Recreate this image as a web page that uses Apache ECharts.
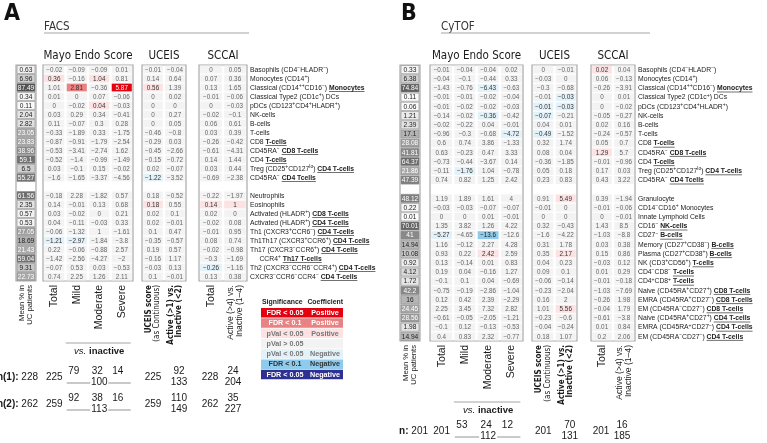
<!DOCTYPE html>
<html><head><meta charset="utf-8">
<script src="https://cdn.jsdelivr.net/npm/echarts@6/dist/echarts.min.js"></script>
<style>html,body{margin:0;padding:0;background:#fff}#c{width:767px;height:443px}</style>
</head><body><div id="c"></div>
<script>
// ================= DATA : Panel A (FACS) =================
const labelsA_plain = ['Basophils (CD4⁻HLADR⁻)','Monocytes (CD14⁺)','Classical (CD14⁺⁺CD16⁻) ','Classical Type2 (CD1c⁺) DCs','pDCs (CD123⁺CD4⁺HLADR⁺)','NK-cells','B-cells','T-cells','CD8 ','CD45RA⁻ ','CD4 ','Treg (CD25⁺CD127ˡᵒ) ','CD45RA⁻ ',null,'Neutrophils','Eosinophils','Activated (HLADR⁺) ','Activated (HLADR⁺) ','Th1 (CXCR3⁺CCR6⁻) ','Th1Th17 (CXCR3⁺CCR6⁺) ','Th17 (CXCR3⁻CCR6⁺) ','     CCR4⁺ ','Th2 (CXCR3⁻CCR6⁻CCR4⁺) ','CXCR3⁻CCR6⁻CCR4⁻ '];
const labelsA_bold  = ['','','Monocytes','','','','','','T-cells','CD8 T-cells','T-cells','CD4 T-cells','CD4 Tcells',null,'','','CD8 T-cells','CD4 T-cells','CD4 T-cells','CD4 T-cells','CD4 T-cells','Th17 T-cells','CD4 T-cells','CD4 T-cells'];
const meanA          = [0.63,6.96,87.49,0.34,0.11,2.04,2.82,23.05,23.83,38.96,59.1,6.5,55.27,null,61.56,2.35,0.57,0.53,27.05,18.69,21.43,59.04,9.31,22.73];
const mayoA_total    = [-0.02,0.36,1.01,0.01,0,0.03,0.11,-0.33,-0.87,-0.53,-0.52,0.03,-1.6,null,-0.18,0.14,0.03,0.04,-0.06,-1.21,0.22,-1.42,-0.07,0.74];
const mayoA_mild     = [-0.09,-0.16,2.81,0,-0.02,0.29,-0.07,-1.89,-0.91,-3.41,-1.4,-0.1,-1.65,null,2.28,-0.01,-0.02,-0.11,-1.32,-2.97,-0.06,-2.56,0.53,2.25];
const mayoA_moderate = [-0.09,1.04,-0.36,0.07,0.04,0.34,0.3,0.33,-1.79,-2.74,-0.99,0.15,-3.37,null,-1.82,0.13,0,-0.03,1,-1.84,-0.88,-4.27,0.03,1.26];
const mayoA_severe   = [0.01,0.81,5.87,-0.06,-0.03,-0.41,0.28,-1.75,-2.54,1.62,-1.49,-0.02,-4.56,null,0.57,0.68,0.21,0.33,-1.61,-3.8,2.57,-2,-0.53,2.11];
const uceisA_cont    = [-0.01,0.14,0.56,0,0,0,0,-0.46,-0.29,-0.45,-0.15,0.02,-1.22,null,0.18,0.18,0.02,0.02,0.1,-0.35,0.19,-0.16,-0.03,0.1];
const uceisA_active  = [-0.04,0.64,1.39,0.02,0,0.27,0.05,-0.8,0.03,-2.66,-0.72,-0.07,-3.52,null,-0.52,0.55,0.1,-0.01,0.47,-0.57,0.57,1.17,0.13,-0.01];
const sccaiA_total   = [0,0.07,0.13,-0.01,0,-0.02,0.06,0.03,-0.26,-0.61,0.14,0.03,-0.69,null,-0.22,0.14,0.02,-0.02,-0.01,0.08,-0.02,-0.3,-0.26,0.13];
const sccaiA_active  = [0.05,0.36,1.65,-0.06,-0.03,-0.1,0.61,0.39,-0.42,-4.31,1.44,0.44,-2.38,null,-1.97,1,0,0.08,0.95,0.74,-0.98,-1.69,-1.16,0.38];
// significance codes: R FDR<0.05 pos, r FDR<0.1 pos, p pVal<0.05 pos, . n.s., n pVal<0.05 neg, b FDR<0.1 neg, B FDR<0.05 neg
const sigA_mayo  = ['....','p.p.','.r.R','....','..p.','....','....','....','....','....','....','....','....','','....','....','....','....','....','nn..','....','....','....','....'];
const sigA_uceis = ['..','..','p.','..','..','..','..','..','..','..','..','..','n.','','..','p.','..','..','..','..','..','..','..','..'];
const sigA_sccai = ['..','..','..','..','..','..','..','..','..','..','..','..','..','','..','pp','..','..','..','..','..','..','n.','..'];
const nLabelA = ['n(1):','n(2):'];
const nMeanA = [228,262], nTotalA = [225,259], nMildA = [79,92], nModA = [32,38], nSevA = [14,16], nInactA = [100,113];
const nUceisContA = [225,259], nUceisActA = [92,110], nUceisInactA = [133,149];
const nSccaiTotA = [228,262], nSccaiActA = [24,35], nSccaiInactA = [204,227];

// ================= DATA : Panel B (CyTOF) =================
const labelsB_plain = ['Basophils (CD4⁻HLADR⁻)','Monocytes (CD14⁺)','Classical (CD14⁺⁺CD16⁻) ','Classical Type2 (CD1c⁺) DCs','pDCs (CD123⁺CD4⁺HLADR⁺)','NK-cells','B-cells','T-cells','CD8 ','CD45RA⁻ ','CD4 ','Treg (CD25⁺CD127ˡᵒ) ','CD45RA⁻ ',null,'Granulocyte','CD14⁻CD16⁺ Monocytes','Innate Lymphoid Cells','CD16⁻ ','CD27⁻ ','Memory (CD27⁺CD38⁻) ','Plasma (CD27⁺CD38⁺) ','NK (CD3⁺CD56⁺) ','CD4⁻CD8⁻ ','CD4⁺CD8⁺ ','Naive (CD45RA⁺CD27⁺) ','EMRA (CD45RA⁺CD27⁻) ','EM (CD45RA⁻CD27⁻) ','Naive (CD45RA⁺CD27⁺) ','EMRA (CD45RA⁺CD27⁻) ','EM (CD45RA⁻CD27⁻) '];
const labelsB_bold  = ['','','Monocytes','','','','','','T-cells','CD8 T-cells','T-cells','CD4 T-cells','CD4 Tcells',null,'','','','NK-cells','B-cells','B-cells','B-cells','T-cells','T-cells','T-cells','CD8 T-cells','CD8 T-cells','CD8 T-cells','CD4 T-cells','CD4 T-cells','CD4 T-cells'];
const meanB          = [0.33,6.38,74.84,0.11,0.06,1.21,2.39,17.1,28.08,41.81,64.37,21.86,47.39,null,48.12,0.22,0.01,70.01,41,14.94,10.08,0.92,4.12,1.72,42.2,16,24.45,28.56,1.98,14.94];
const mayoB_total    = [-0.01,-0.04,-1.43,-0.01,-0.01,-0.14,-0.02,-0.96,0.6,0.63,-0.73,-0.11,0.74,null,1.19,-0.03,0,1.35,-5.27,1.16,0.93,0.13,0.19,-0.1,-0.75,0.12,2.25,-0.61,-0.1,0.4];
const mayoB_mild     = [-0.04,-0.1,-0.76,-0.01,-0.02,-0.02,-0.22,-0.3,0.74,-0.23,-0.44,-1.76,0.82,null,1.89,-0.03,0,3.82,-4.65,-0.12,0.22,-0.14,0.04,0.1,-0.19,0.42,3.45,-0.05,0.12,0.83];
const mayoB_moderate = [-0.04,-0.44,-6.43,-0.02,-0.02,-0.36,0.04,-0.68,3.86,0.47,-3.67,1.04,1.25,null,1.61,-0.07,0.01,1.26,-13.6,2.27,2.42,0.01,-0.16,0.04,-2.86,2.39,7.32,-2.05,-0.13,2.32];
const mayoB_severe   = [0.02,0.33,-0.63,-0.04,-0.03,-0.42,-0.01,-4.72,-1.33,3.33,0.14,-0.78,2.42,null,4,-0.07,-0.01,4.22,-12.6,4.28,2.59,0.83,1.27,-0.69,-1.04,-2.29,2.82,-1.21,-0.53,-0.77];
const uceisB_cont    = [0,-0.03,-0.3,-0.01,-0.01,-0.07,0.04,-0.49,0.32,0.08,-0.36,0.05,0.23,null,0.91,-0.01,0,0.32,-1.6,0.31,0.35,0.04,0.09,-0.06,-0.23,0.16,1.01,-0.23,-0.04,0.18];
const uceisB_active  = [-0.01,0,-0.68,-0.03,-0.03,-0.21,0.01,-1.52,1.74,0.04,-1.85,0.18,0.83,null,5.49,0,0,-0.43,-4.22,1.78,2.17,0.23,0.1,-0.14,-2.04,2,5.56,-0.6,-0.24,1.07];
const sccaiB_total   = [0.02,0.06,-0.26,0,0,-0.05,0.02,-0.24,0.05,1.29,-0.01,0.17,0.43,null,0.39,-0.01,0,1.43,-1.03,0.03,0.15,-0.03,0.01,-0.01,-1.03,-0.26,-0.04,-0.61,0.01,0.2];
const sccaiB_active  = [0.04,-0.13,-3.91,0.01,-0.02,-0.27,0.16,-0.57,0.7,5.7,-0.96,0.03,3.22,null,-1.94,-0.06,-0.01,8.5,-8.8,0.38,0.86,0.12,0.29,-0.18,-7.69,1.98,1.79,-3.8,0.84,2.06];
const sigB_mayo  = ['....','....','..n.','....','....','..n.','....','...n','....','....','....','.n..','....','','....','....','....','....','n.b.','....','..p.','....','....','....','....','....','....','....','....','....'];
const sigB_uceis = ['..','..','..','.n','nn','n.','..','n.','..','..','..','..','..','','.p','..','..','..','..','..','.p','..','..','..','..','..','.p','..','..','..'];
const sigB_sccai = ['p.','..','..','..','..','..','..','..','..','p.','..','..','..','','..','..','..','..','..','..','..','..','..','..','..','..','..','..','..','..'];
const nLabelB = ['n:'];
const nMeanB = [201], nTotalB = [201], nMildB = [53], nModB = [24], nSevB = [12], nInactB = [112];
const nUceisContB = [201], nUceisActB = [70], nUceisInactB = [131];
const nSccaiTotB = [201], nSccaiActB = [16], nSccaiInactB = [185];

// legend
const legendLabels = ['FDR < 0.05','FDR < 0.1','pVal < 0.05','pVal > 0.05','pVal < 0.05','FDR < 0.1','FDR < 0.05'];
const legendCoef   = ['Positive','Positive','Positive','','Negative','Negative','Negative'];
const legendCodes  = ['R','r','p','.','n','b','B'];

// ================= STYLE =================
const FONT = '"Liberation Sans", Arial, sans-serif';
const NARROW = '"Liberation Sans Narrow","Arial Narrow","DejaVu Sans Condensed",sans-serif';
const SIG_FILL = {R:'#e4000f', r:'#e98282', p:'#fce2e2', '.':'#f3f3f3', n:'#e3f1f9', b:'#8ecbec', B:'#2e3192'};
const SIG_TEXT = {R:'#ffffff', r:'#333', p:'#333', '.':'#666', n:'#333', b:'#1a1a1a', B:'#ffffff'};
const LEG_TEXT = {R:'#ffffff', r:'#ffffff', p:'#777', '.':'#777', n:'#777', b:'#333', B:'#ffffff'};
const SUP = {'⁺':'+', '⁻':'\u2212', 'ˡ':'l', 'ᵒ':'o'};
function fmt(v){ return v < 0 ? '\u2212' + String(Math.abs(v)) : String(v); }

const mctx = document.createElement('canvas').getContext('2d');
function textW(str, weight, size){ mctx.font = weight + ' ' + size + 'px ' + FONT; return mctx.measureText(str).width; }
function splitSup(str){
  const out = [];
  for (const ch of str) {
    const s = ch in SUP, t = s ? SUP[ch] : ch;
    if (out.length && out[out.length-1].sup === s) out[out.length-1].t += t; else out.push({t:t, sup:s});
  }
  return out;
}

const PANELS = [
  { name:'A', title:'FACS', top:65, rowH:9.0,
    mean:meanA, mayo:[mayoA_total,mayoA_mild,mayoA_moderate,mayoA_severe], uceis:[uceisA_cont,uceisA_active], sccai:[sccaiA_total,sccaiA_active],
    sigMayo:sigA_mayo, sigUceis:sigA_uceis, sigSccai:sigA_sccai, plain:labelsA_plain, bold:labelsA_bold,
    geo:{mean:[16,20], mayo:[43,90], uceis:[142,44], sccai:[199,48]}, letterX:4, titleX:44, ruleEnd:249 },
  { name:'B', title:'CyTOF', top:65, rowH:9.2,
    mean:meanB, mayo:[mayoB_total,mayoB_mild,mayoB_moderate,mayoB_severe], uceis:[uceisB_cont,uceisB_active], sccai:[sccaiB_total,sccaiB_active],
    sigMayo:sigB_mayo, sigUceis:sigB_uceis, sigSccai:sigB_sccai, plain:labelsB_plain, bold:labelsB_bold,
    geo:{mean:[400,20], mayo:[430,93], uceis:[532,45], sccai:[591,44]}, letterX:401, titleX:441, ruleEnd:650 }
];

const option = {animation:false, grid:[], xAxis:[], yAxis:[], series:[]};
let gi = 0;
function addGrid(left, width, top, height, nRows, cats, labelCfg){
  option.grid.push({left:left, width:width, top:top, height:height, show:true, borderColor:'#a9a9a9', borderWidth:1.2, backgroundColor:'#fff'});
  option.xAxis.push({type:'category', gridIndex:gi, data:cats, position:'bottom',
    axisLine:{show:false}, axisTick:{show:false}, splitLine:{show:false},
    axisLabel:Object.assign({interval:0, rotate:90, margin:4, color:'#1a1a1a', fontFamily:FONT}, labelCfg)});
  option.yAxis.push({type:'category', gridIndex:gi, data:Array.from({length:nRows},(_, i)=>String(i)), inverse:true, show:false});
  return gi++;
}
function cellRenderer(cols, sig){
  return function(params, api){
    const ci = api.value(0), ri = api.value(1);
    const v = cols[ci][ri]; const code = sig[ri][ci];
    const p = api.coord([ci, ri]); const sz = api.size([1,1]);
    const w = sz[0], h = sz[1];
    return {type:'group', children:[
      {type:'rect', shape:{x:p[0]-w/2+1.2, y:p[1]-h/2+0.6, width:w-2.4, height:h-1.2}, style:{fill:SIG_FILL[code]}},
      {type:'text', style:{x:p[0], y:p[1]+0.4, text:fmt(v), align:'center', verticalAlign:'middle', fontSize:6.3, fontFamily:FONT, fill:SIG_TEXT[code]}}
    ]};
  };
}
function meanRenderer(vals, vmax){
  return function(params, api){
    const ri = api.value(1); const v = vals[ri];
    const p = api.coord([0, ri]); const sz = api.size([1,1]);
    const g = Math.round(255 - 175*Math.sqrt(v/vmax));
    const col = 'rgb(' + g + ',' + g + ',' + g + ')';
    return {type:'group', children:[
      {type:'rect', shape:{x:p[0]-sz[0]/2+1, y:p[1]-sz[1]/2+0.5, width:sz[0]-2, height:sz[1]-1}, style:{fill:col, stroke:'#8c8c8c', lineWidth:0.6}},
      {type:'text', style:{x:p[0], y:p[1]+0.4, text:String(v), align:'center', verticalAlign:'middle', fontSize:6.6, fontFamily:FONT, fill: g < 174 ? '#fff' : '#222'}}
    ]};
  };
}
function labelRenderer(plain, bold){
  return function(params, api){
    const ri = api.value(1);
    const p = api.coord([1, ri]); const sz = api.size([1,1]);
    let x = p[0] + sz[0]/2 + 3; const y = p[1] + 0.3;
    const fs = 6.8, sfs = 5;
    const kids = [];
    splitSup(plain[ri]).forEach(seg => {
      const f = seg.sup ? sfs : fs;
      kids.push({type:'text', style:{x:x, y:y - (seg.sup ? 2.2 : 0), text:seg.t, align:'left', verticalAlign:'middle', fontSize:f, fontFamily:FONT, fill:'#222'}});
      x += textW(seg.t, 'normal', f);
    });
    if (bold[ri]) {
      const w2 = textW(bold[ri], 'bold', fs);
      kids.push({type:'text', style:{x:x, y:y, text:bold[ri], align:'left', verticalAlign:'middle', fontSize:fs, fontWeight:'bold', fontFamily:FONT, fill:'#222'}});
      kids.push({type:'line', shape:{x1:x, y1:y+3.7, x2:x+w2, y2:y+3.7}, style:{stroke:'#333', lineWidth:0.7}});
    }
    return {type:'group', children:kids};
  };
}

const axisIdx = [];
PANELS.forEach(P => {
  const nRows = P.mean.length, H = nRows * P.rowH;
  const ids = {};
  ids.mean = addGrid(P.geo.mean[0], P.geo.mean[1], P.top, H, nRows, ['mean'], {
    formatter:()=>'{m|Mean % in}\n{m|UC patients}', rich:{m:{fontSize:7.6, lineHeight:8.5, fontFamily:FONT, color:'#1a1a1a'}}});
  ids.mayo = addGrid(P.geo.mayo[0], P.geo.mayo[1], P.top, H, nRows, ['Total','Mild','Moderate','Severe'], {fontSize:10.5});
  ids.uceis = addGrid(P.geo.uceis[0], P.geo.uceis[1], P.top, H, nRows, ['cont','act'], {
    formatter:(v)=> v==='cont' ? '{b|UCEIS score}\n{n|(as Continuous)}' : '{b|Active (>1) vs.}\n{b|Inactive (<2)}',
    rich:{b:{fontSize:8, fontWeight:'bold', fontFamily:NARROW, lineHeight:8.5, color:'#1a1a1a'}, n:{fontSize:8, fontFamily:NARROW, lineHeight:8.5, color:'#1a1a1a'}}});
  ids.sccai = addGrid(P.geo.sccai[0], P.geo.sccai[1], P.top, H, nRows, ['tot','act'], {
    formatter:(v)=> v==='tot' ? '{t|Total}' : '{a|Active (>4) vs.}\n{a|Inactive (1–4)}',
    rich:{t:{fontSize:10.5, fontFamily:FONT, color:'#1a1a1a'}, a:{fontSize:8.6, lineHeight:9.5, fontFamily:FONT, color:'#1a1a1a'}}});
  axisIdx.push(ids);

  const rowsIdx = [...Array(nRows).keys()].filter(r => P.mean[r] !== null);
  option.series.push({type:'custom', xAxisIndex:ids.mean, yAxisIndex:ids.mean, renderItem:meanRenderer(P.mean, 90),
    data: rowsIdx.map(r => [0, r]), silent:true});
  [['mayo','sigMayo'],['uceis','sigUceis'],['sccai','sigSccai']].forEach(([k, s]) => {
    const data = [];
    P[k].forEach((col, ci) => rowsIdx.forEach(r => data.push([ci, r])));
    option.series.push({type:'custom', xAxisIndex:ids[k], yAxisIndex:ids[k], renderItem:cellRenderer(P[k], P[s]), data:data, silent:true});
  });
  option.series.push({type:'custom', xAxisIndex:ids.sccai, yAxisIndex:ids.sccai, renderItem:labelRenderer(P.plain, P.bold),
    data: rowsIdx.map(r => [1, r]), silent:true, clip:false});
});

const chart = echarts.init(document.getElementById('c'), null, {renderer:'canvas'});
chart.setOption(option);

// ---------- annotations positioned from the axes ----------
function cx(axis, ci){ return chart.convertToPixel({xAxisIndex:axis}, ci); }
const G = [];
function txt(x, y, text, st){ G.push({type:'text', x:x, y:y, silent:true, style:Object.assign({text:text, fontFamily:FONT, fontSize:10, fill:'#1a1a1a', align:'center', verticalAlign:'middle'}, st||{})}); }
function ln(x1, y1, x2, y2, color, w){ G.push({type:'line', silent:true, shape:{x1:x1,y1:y1,x2:x2,y2:y2}, style:{stroke:color||'#a0a0a0', lineWidth:w||1}}); }

const NROWS = [
  {label:nLabelA, mean:nMeanA, tot:nTotalA, mild:nMildA, mod:nModA, sev:nSevA, inact:nInactA, uc:nUceisContA, ua:nUceisActA, ui:nUceisInactA, st:nSccaiTotA, sa:nSccaiActA, si:nSccaiInactA, vsY:343, y0:377, dy:27, nx:12},
  {label:nLabelB, mean:nMeanB, tot:nTotalB, mild:nMildB, mod:nModB, sev:nSevB, inact:nInactB, uc:nUceisContB, ua:nUceisActB, ui:nUceisInactB, st:nSccaiTotB, sa:nSccaiActB, si:nSccaiInactB, vsY:402, y0:431, dy:27, nx:18}
];

PANELS.forEach((P, pi) => {
  const ids = axisIdx[pi], N = NROWS[pi];
  txt(P.letterX, 3, P.name, {fontFamily:NARROW, fontWeight:'bold', fontSize:23, align:'left', verticalAlign:'top', fill:'#111'});
  txt(P.titleX, 27, P.title, {fontFamily:NARROW, fontSize:11.5, align:'left', fill:'#333'});
  ln(P.titleX, 33, P.ruleEnd, 33, '#a6a6a6', 1.2);
  txt(P.geo.mayo[0] + P.geo.mayo[1]/2, 56, 'Mayo Endo Score', {fontFamily:NARROW, fontSize:11.5});
  txt(P.geo.uceis[0] + P.geo.uceis[1]/2, 56, 'UCEIS', {fontFamily:NARROW, fontSize:11.5});
  txt(P.geo.sccai[0] + P.geo.sccai[1]/2, 56, 'SCCAI', {fontFamily:NARROW, fontSize:11.5});
  const xMild = cx(ids.mayo, 1), xMod = cx(ids.mayo, 2), xSev = cx(ids.mayo, 3);
  ln(xMild - 11, N.vsY, xSev + 9, N.vsY, '#a6a6a6', 1.2);
  txt((xMild + xSev)/2, N.vsY + 8, '{i|vs.} {b|inactive}', {rich:{i:{fontStyle:'italic', fontSize:9.5, fontFamily:FONT, fill:'#1a1a1a'}, b:{fontWeight:'bold', fontSize:9.5, fontFamily:FONT, fill:'#1a1a1a'}}});
  N.mean.forEach((m, r) => {
    const y = N.y0 + r*N.dy;
    txt(cx(ids.mean, 0) + N.nx, y, '{b|' + N.label[r] + '} ' + m, {align:'right', rich:{b:{fontWeight:'bold', fontSize:10, fontFamily:FONT, fill:'#1a1a1a'}}});
    txt(cx(ids.mayo, 0), y, String(N.tot[r]));
    txt(xMild - 3, y - 6, String(N.mild[r]));
    txt(xMod - 2, y - 6, String(N.mod[r]));
    txt(xSev - 4, y - 6, String(N.sev[r]));
    txt(xMod, y + 5.5, String(N.inact[r]));
    ln(xMild - 10, y + 6, xMod - 9, y + 6, '#a6a6a6', 1.2);
    ln(xMod + 9, y + 6, xSev + 9, y + 6, '#a6a6a6', 1.2);
    txt(cx(ids.uceis, 0), y, String(N.uc[r]));
    txt(cx(ids.uceis, 1) + 4, y - 6, String(N.ua[r]));
    txt(cx(ids.uceis, 1) + 4, y + 5.5, String(N.ui[r]));
    txt(cx(ids.sccai, 0) - 1, y, String(N.st[r]));
    txt(cx(ids.sccai, 1) - 2, y - 6, String(N.sa[r]));
    txt(cx(ids.sccai, 1) - 2, y + 5.5, String(N.si[r]));
  });
});

// legend (panel A)
const LX = 261, LW = 82, LY = 302, LH = 10.3;
txt(LX + 1, LY, 'Significance', {align:'left', fontWeight:'bold', fontSize:6.9});
txt(LX + LW, LY, 'Coefficient', {align:'right', fontWeight:'bold', fontSize:6.9});
legendCodes.forEach((c, i) => {
  const y = LY + 6 + i*LH;
  G.push({type:'rect', silent:true, shape:{x:LX, y:y, width:LW, height:LH - 0.8}, style:{fill:SIG_FILL[c]}});
  txt(LX + 24, y + LH/2 - 0.2, legendLabels[i], {fontWeight:'bold', fontSize:7.2, fill:LEG_TEXT[c]});
  if (legendCoef[i]) txt(LX + 64, y + LH/2 - 0.2, legendCoef[i], {fontWeight:'bold', fontSize:7.2, fill:LEG_TEXT[c]});
});

chart.setOption({graphic:G});
</script></body></html>
